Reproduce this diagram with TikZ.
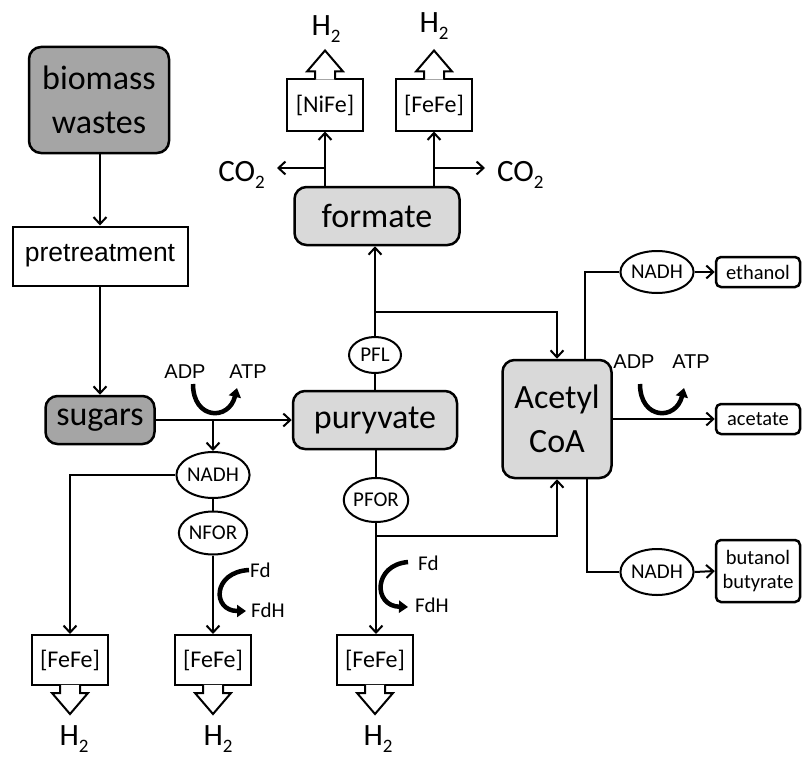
\documentclass[tikz,border=0pt]{standalone}
\usepackage{fontspec}
\setmainfont{Carlito}
\newfontfamily\arialf{Liberation Sans}
\usetikzlibrary{arrows.meta,shapes.geometric,calc}
\definecolor{darkbox}{RGB}{165,165,165}
\definecolor{lightbox}{RGB}{217,217,217}
\newcommand\subtwo{\raisebox{-7pt}{\fontsize{19}{19}\selectfont 2}}
\begin{document}
\begin{tikzpicture}[x=1pt,y=-1pt,
 bigbox/.style={draw,line width=2.5pt,rounded corners=12pt,inner sep=0pt,align=center,font=\fontsize{34}{44}\selectfont},
 darkb/.style={bigbox,fill=darkbox},
 lightb/.style={bigbox,fill=lightbox},
 enz/.style={draw,line width=2pt,fill=white,inner sep=0pt,minimum width=76pt,minimum height=50pt,font=\fontsize{24}{24}\selectfont},
 ell/.style={ellipse,draw,line width=2pt,fill=white,inner sep=0pt,font=\fontsize{21}{21}\selectfont},
 prod/.style={draw,line width=2.5pt,rounded corners=5pt,fill=white,inner sep=0pt,minimum width=84pt,align=center,font=\fontsize{20.5}{24}\selectfont},
 conn/.style={line width=2pt},
 arr/.style={conn,-{Straight Barb[length=7pt,width=13pt]}},
 curv/.style={line width=4.5pt,-{Triangle[length=9pt,width=12pt]}},
 gas/.style={inner sep=0pt,font=\fontsize{31}{31}\selectfont},
 lbl/.style={inner sep=0pt,font=\fontsize{21}{21}\selectfont},
 alb/.style={inner sep=0pt,font=\arialf\fontsize{20}{20}\selectfont},
 barrow/.style={line width=2pt,fill=white,line join=miter}
]
\useasboundingbox (0,0) rectangle (802,757);

% main boxes
\node[darkb,minimum width=140pt,minimum height=106pt] (bio) at (99,100) {biomass\\wastes};
\node[draw,line width=2pt,fill=white,inner sep=0pt,minimum width=175pt,minimum height=59pt,font=\arialf\fontsize{26.5}{26.5}\selectfont] (pre) at (100,256) {pretreatment};
\node[darkb,minimum width=109pt,minimum height=48pt] (sug) at (100,420) {sugars};
\node[lightb,minimum width=164pt,minimum height=58pt] (pur) at (375,420) {puryvate};
\node[lightb,minimum width=165pt,minimum height=58pt] (form) at (377,216) {formate};
\node[lightb,minimum width=109pt,minimum height=118pt] (acet) at (557,419) {Acetyl\\CoA};

% hydrogenases
\node[enz,minimum height=51pt] (nife) at (325,105) {[NiFe]};
\node[enz,minimum height=51pt] (fefeT) at (434,105) {[FeFe]};
\node[enz] (fefe1) at (70,660) {[FeFe]};
\node[enz] (fefe2) at (213,660) {[FeFe]};
\node[enz] (fefe3) at (375,660) {[FeFe]};

% block arrows
\draw[barrow] ([xshift=-10pt,yshift=-1.25pt]nife.north) -- ++(0,-8.25) -- ++(-8,0) -- ++(18,-21) -- ++(18,21) -- ++(-8,0) -- ++(0,8.25);
\draw[barrow] ([xshift=-10pt,yshift=-1.25pt]fefeT.north) -- ++(0,-8.25) -- ++(-8,0) -- ++(18,-21) -- ++(18,21) -- ++(-8,0) -- ++(0,8.25);
\draw[barrow] ([xshift=-10pt,yshift=1.25pt]fefe1.south) -- ++(0,8.25) -- ++(-8,0) -- ++(18,21) -- ++(18,-21) -- ++(-8,0) -- ++(0,-8.25);
\draw[barrow] ([xshift=-10pt,yshift=1.25pt]fefe2.south) -- ++(0,8.25) -- ++(-8,0) -- ++(18,21) -- ++(18,-21) -- ++(-8,0) -- ++(0,-8.25);
\draw[barrow] ([xshift=-10pt,yshift=1.25pt]fefe3.south) -- ++(0,8.25) -- ++(-8,0) -- ++(18,21) -- ++(18,-21) -- ++(-8,0) -- ++(0,-8.25);

% gases
\node[gas,anchor=base] (h2a) at (326,36) {H\subtwo};
\node[gas,anchor=base] (h2b) at (434,33) {H\subtwo};
\node[gas,anchor=base] (h2c) at (74,745) {H\subtwo};
\node[gas,anchor=base] (h2d) at (218,745) {H\subtwo};
\node[gas,anchor=base] (h2e) at (378,745) {H\subtwo};
\node[gas,anchor=base east] (co2l) at (265,181) {CO\subtwo};
\node[gas,anchor=base west] (co2r) at (497,181) {CO\subtwo};

% ellipses
\node[ell,minimum width=67pt,minimum height=46pt] (nadh1) at (213,475) {NADH};
\node[ell,minimum width=67pt,minimum height=43pt] (nfor) at (213,533) {NFOR};
\node[ell,minimum width=52pt,minimum height=36pt] (pfl) at (375,355) {PFL};
\node[ell,minimum width=64pt,minimum height=44pt] (pfor) at (376,500) {PFOR};
\node[ell,minimum width=65pt,minimum height=42pt] (nadhE) at (657,272) {NADH};
\node[ell,minimum width=64pt,minimum height=46pt] (nadhB) at (657,572) {NADH};

% products
\node[prod,minimum height=30pt] (eth) at (758,272) {ethanol};
\node[prod,minimum height=30pt] (ace) at (758,419) {acetate};
\node[prod,minimum height=62pt] (but) at (758,571) {butanol\\butyrate};

% labels
\node[alb] (adp1) at (185,372) {ADP};
\node[alb] (atp1) at (248,372) {ATP};
\node[alb] (adp2) at (634,362) {ADP};
\node[alb] (atp2) at (691,362) {ATP};
\node[lbl,anchor=west] (fd1) at (250,570) {Fd};
\node[lbl,anchor=west] (fdh1) at (251,610) {FdH};
\node[lbl,anchor=west] (fd2) at (418,563) {Fd};
\node[lbl,anchor=west] (fdh2) at (415,605) {FdH};

% junction coordinates
\coordinate (jS) at (213,420);
\coordinate (jL) at (325,168);
\coordinate (jR) at (434,168);
\coordinate (jP) at (375,312);
\coordinate (jB) at (376,536);

% connectors
\draw[arr] (bio.south -| pre.north) -- (pre.north);
\draw[arr] (pre.south) -- (sug.north);
\draw[arr] (sug.east) -- (pur.west);
\draw[arr] (jS) -- (nadh1.north);
\draw[arr] (nadh1.west) -| (fefe1.north);
\draw[conn] (nadh1.south) -- (nfor.north);
\draw[arr] (nfor.south) -- (fefe2.north);

\draw[arr] (form.north -| nife.south) -- (nife.south);
\draw[arr] (form.north -| fefeT.south) -- (fefeT.south);
\draw[arr] (jL) -- ([xshift=12pt]co2l.east |- jL);
\draw[arr] (jR) -- ([xshift=-12pt]co2r.west |- jR);

\draw[conn] (pur.north) -- (pfl.south);
\draw[arr] (pfl.north) -- (pfl.north |- form.south);
\draw[arr] (jP) -| (acet.north);
\draw[conn] (pur.south -| pfor.north) -- (pfor.north);
\draw[arr] (pfor.south) -- (pfor.south |- fefe3.north);
\draw[arr] (jB) -| (acet.south);

\draw[conn] ([xshift=28pt]acet.north) |- (nadhE.west);
\draw[arr] (nadhE.east) -- (eth.west);
\draw[arr] (acet.east |- ace.west) -- (ace.west);
\draw[conn] ([xshift=30pt]acet.south) |- (nadhB.west);
\draw[arr] (nadhB.east) -- (but.west);

% curved cofactor arrows
\draw[curv] (193,384) .. controls (193,420) and (229,421) .. (237,388);
\draw[curv] (640,384) .. controls (640,420) and (676,421) .. (684,388);
\draw[curv] (249,570) .. controls (212,572) and (212,611) .. (246,611);
\draw[curv] (408,562) .. controls (373,565) and (373,606) .. (408,607);
\end{tikzpicture}
\end{document}
